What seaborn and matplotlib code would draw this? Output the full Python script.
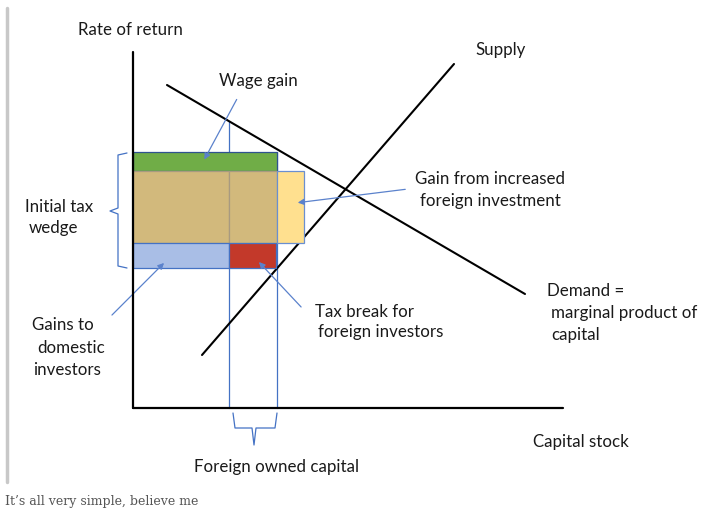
import matplotlib
matplotlib.use("Agg")
import matplotlib.pyplot as plt
import seaborn as sns
import pandas as pd

# coordinates measured from the axis origin (x right, y up)
supply_x = [69, 321]
supply_y = [53, 344]
demand_x = [34, 392]
demand_y = [323, 114]

# rectangles: left, right, bottom, top
rect_names = ["wage gain", "wedge domestic", "wedge foreign", "new investment",
              "domestic", "tax break"]
rect_left = [0, 0, 96, 144, 0, 96]
rect_right = [144, 96, 144, 171, 96, 143]
rect_bottom = [237, 165, 165, 165, 140, 140]
rect_top = [256, 237, 237, 237, 165, 165]
rect_colors = ["#70AD47", "#D2B97C", "#D2B97C", "#FFE08F", "#A9BEE6", "#C3392A"]
rect_edges = ["#2F528F", "#A89A80", "#A89A80", "#6A8FD0", "#4472C4", "#4472C4"]

foreign_x = [96, 144]
foreign_top = [287, 256]

sns.set_style("white")
plt.rcParams["font.family"] = ["Lato", "DejaVu Sans"]

fig = plt.figure(figsize=(7.06, 5.15), dpi=100)
ax = fig.add_axes([0, 0, 1, 1])
ax.set_xlim(-133, 573)
ax.set_ylim(-107, 408)
ax.axis("off")

lines = pd.DataFrame({
    "x": supply_x + demand_x,
    "y": supply_y + demand_y,
    "curve": ["Supply"] * 2 + ["Demand"] * 2,
})
sns.lineplot(data=lines, x="x", y="y", units="curve", estimator=None,
             color="black", lw=1.5, ax=ax, legend=False)

# axes
ax.plot([0, 0], [0, 356], color="black", lw=1.6, zorder=4)
ax.plot([0, 430], [0, 0], color="black", lw=1.6, zorder=4)

blue = "#4472C4"
for fx, ft in zip(foreign_x, foreign_top):
    ax.plot([fx, fx], [0, ft], color=blue, lw=0.9, zorder=1)

for l, r, b, t, c, e in zip(rect_left, rect_right, rect_bottom, rect_top, rect_colors, rect_edges):
    ax.bar(l, t - b, width=r - l, bottom=b, align="edge", color=c,
           edgecolor=e, linewidth=0.9, zorder=2)

# left brace
ax.plot([-6, -15, -15, -23, -15, -15, -6],
        [255, 253, 200, 197, 194, 142, 140], color=blue, lw=0.9)
# bottom brace
ax.plot([100, 102, 119, 121, 123, 142, 144],
        [-5, -20, -20, -37, -20, -20, -5], color=blue, lw=0.9)

fs = 12.2
tc = "#1a1a1a"
ax.text(-3, 378, "Rate of return", ha="center", va="center", fontsize=fs, color=tc)
ax.text(125, 327, "Wage gain", ha="center", va="center", fontsize=fs, color=tc)
ax.text(342, 358, "Supply", ha="left", va="center", fontsize=fs, color=tc)
ax.text(357, 218, "Gain from increased\nforeign investment", ha="center",
        va="center", fontsize=fs, linespacing=1.45, color=tc)
ax.text(182, 96, "Tax break for", ha="left", va="center", fontsize=fs, color=tc)
ax.text(185, 76, "foreign investors", ha="left", va="center", fontsize=fs, color=tc)
ax.text(414, 117, "Demand =", ha="left", va="center", fontsize=fs, color=tc)
ax.text(418, 95, "marginal product of", ha="left", va="center", fontsize=fs, color=tc)
ax.text(418, 73, "capital", ha="left", va="center", fontsize=fs, color=tc)
ax.text(400, -34, "Capital stock", ha="left", va="center", fontsize=fs, color=tc)
ax.text(144, -59, "Foreign owned capital", ha="center", va="center", fontsize=fs, color=tc)
ax.text(-74, 201, "Initial tax", ha="center", va="center", fontsize=fs, color=tc)
ax.text(-80, 180, "wedge", ha="center", va="center", fontsize=fs, color=tc)
ax.text(-70, 83, "Gains to", ha="center", va="center", fontsize=fs, color=tc)
ax.text(-62, 60, "domestic", ha="center", va="center", fontsize=fs, color=tc)
ax.text(-66, 38, "investors", ha="center", va="center", fontsize=fs, color=tc)

arrow = dict(arrowstyle="-|>", color="#5B82CC", lw=0.9, mutation_scale=9)
ax.annotate("", xy=(70, 246), xytext=(105, 311), arrowprops=arrow)
ax.annotate("", xy=(162, 205), xytext=(275, 219), arrowprops=arrow)
ax.annotate("", xy=(124, 148), xytext=(170, 99), arrowprops=arrow)
ax.annotate("", xy=(33, 147), xytext=(-23, 91), arrowprops=arrow)

# page border and caption
ax.plot([-126, -126], [-74, 400], color="#C8C8C8", lw=2.5)
ax.text(-128, -94, "It\u2019s all very simple, believe me", ha="left", va="center",
        fontsize=9, color="#555555", family=["DejaVu Serif"])

fig.savefig("out.png", dpi=100)
